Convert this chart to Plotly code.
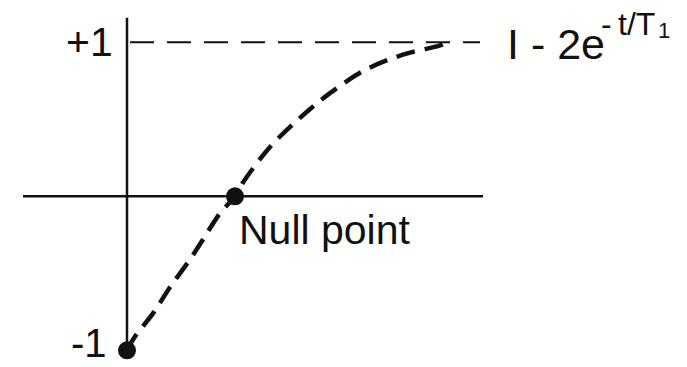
import plotly.graph_objects as go

# Recovery of longitudinal magnetisation after an inversion pulse
t_curve = [0.00, 0.08, 0.26, 0.43, 0.63, 0.76, 0.93, 1.08, 1.16, 1.43, 1.73, 2.03, 2.38, 2.76, 3.13, 3.20]
m_curve = [-1.00, -0.91, -0.76, -0.59, -0.41, -0.28, -0.11, 0.00, 0.09, 0.32, 0.51, 0.67, 0.82, 0.92, 0.98, 1.00]

# Marked points: initial inverted state and the null point
dot_t = [0.00, 1.08]
dot_m = [-1.00, 0.00]

# Axis extents
h_axis_t = [-1.04, 3.56]
v_axis_m = [-1.01, 1.16]
plus_one_t = [0.03, 3.53]

FONT = "Liberation Sans, Arial, Helvetica, sans-serif"
INK = "#111111"

fig = go.Figure()

# Horizontal (time) axis
fig.add_trace(go.Scatter(x=h_axis_t, y=[0, 0], mode="lines",
                         line=dict(color=INK, width=2.5), hoverinfo="skip"))
# Vertical (magnetisation) axis
fig.add_trace(go.Scatter(x=[0, 0], y=v_axis_m, mode="lines",
                         line=dict(color=INK, width=2.5), hoverinfo="skip"))
# Equilibrium level +1
fig.add_trace(go.Scatter(x=plus_one_t, y=[1, 1], mode="lines",
                         line=dict(color=INK, width=2, dash="24px,13px"), hoverinfo="skip"))
# Recovery curve
fig.add_trace(go.Scatter(x=t_curve, y=m_curve, mode="lines",
                         line=dict(color=INK, width=4.5, dash="19px,10px", shape="spline"),
                         hoverinfo="skip"))
# Dots
fig.add_trace(go.Scatter(x=dot_t, y=dot_m, mode="markers",
                         marker=dict(color=INK, size=18), hoverinfo="skip"))

annotations = [
    dict(x=-0.12, y=1.0, text="+1", xanchor="right", yanchor="middle",
         font=dict(size=41, family=FONT, color=INK)),
    dict(x=-0.18, y=-0.955, text="-1", xanchor="right", yanchor="middle",
         font=dict(size=40, family=FONT, color=INK)),
    dict(x=1.10, y=-0.22, text="Null point", xanchor="left", yanchor="middle",
         font=dict(size=41, family=FONT, color=INK)),
    dict(x=3.78, y=0.99, text="I - 2e", xanchor="left", yanchor="middle",
         font=dict(size=43, family=FONT, color=INK)),
    dict(x=4.72, y=1.12, text="-\u2009t/T", xanchor="left", yanchor="middle",
         font=dict(size=32, family=FONT, color=INK)),
    dict(x=5.29, y=1.075, text="1", xanchor="left", yanchor="middle",
         font=dict(size=22, family=FONT, color=INK)),
]
for a in annotations:
    a.update(xref="x", yref="y", showarrow=False)

fig.update_layout(
    width=687, height=367,
    margin=dict(l=0, r=0, t=0, b=0),
    paper_bgcolor="white", plot_bgcolor="white",
    showlegend=False,
    annotations=annotations,
    xaxis=dict(range=[-1.27, 5.60], visible=False, fixedrange=True),
    yaxis=dict(range=[-1.108, 1.275], visible=False, fixedrange=True),
)

fig.write_html("out.html")
